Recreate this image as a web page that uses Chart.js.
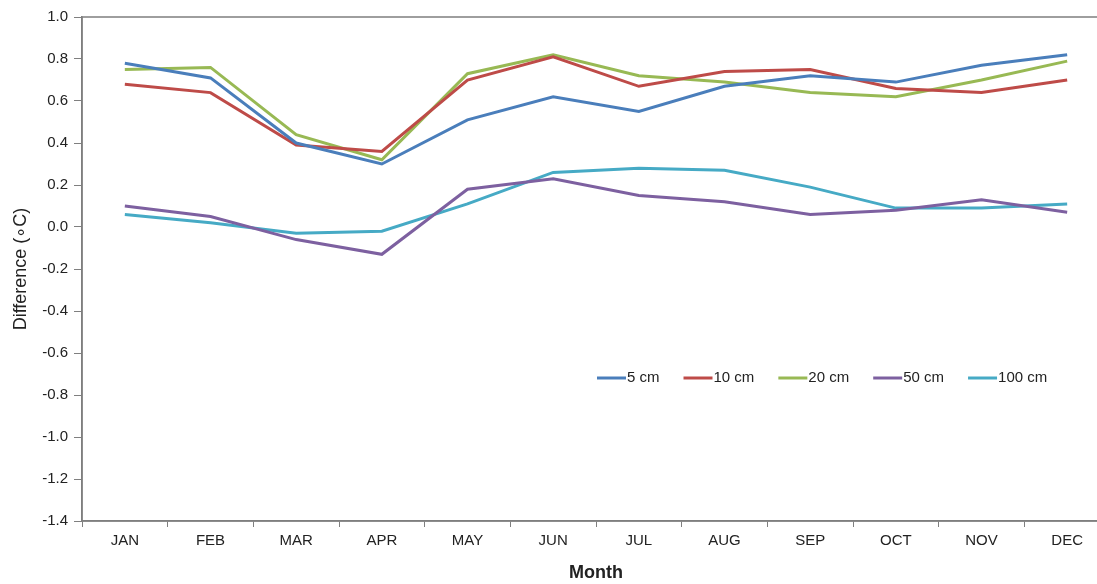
<!DOCTYPE html>
<html>
<head>
<meta charset="utf-8">
<script src="https://cdn.jsdelivr.net/npm/chart.js@4.4.0/dist/chart.umd.min.js"></script>
<style>
  html, body { margin: 0; padding: 0; background: #fff; overflow: hidden; }
  #wrap { width: 1112px; height: 584px; position: relative; }
</style>
</head>
<body>
<div id="wrap"><canvas id="myChart"></canvas></div>
<script>
// chart values
const months = ['JAN', 'FEB', 'MAR', 'APR', 'MAY', 'JUN', 'JUL', 'AUG', 'SEP', 'OCT', 'NOV', 'DEC'];
const seriesNames = ['5 cm', '10 cm', '20 cm', '50 cm', '100 cm'];
const depth5 = [0.78, 0.71, 0.40, 0.30, 0.51, 0.62, 0.55, 0.67, 0.72, 0.69, 0.77, 0.82];
const depth10 = [0.68, 0.64, 0.39, 0.36, 0.70, 0.81, 0.67, 0.74, 0.75, 0.66, 0.64, 0.70];
const depth20 = [0.75, 0.76, 0.44, 0.32, 0.73, 0.82, 0.72, 0.69, 0.64, 0.62, 0.70, 0.79];
const depth50 = [0.10, 0.05, -0.06, -0.13, 0.18, 0.23, 0.15, 0.12, 0.06, 0.08, 0.13, 0.07];
const depth100 = [0.06, 0.02, -0.03, -0.02, 0.11, 0.26, 0.28, 0.27, 0.19, 0.09, 0.09, 0.11];
const yTicks = [1.0, 0.8, 0.6, 0.4, 0.2, 0.0, -0.2, -0.4, -0.6, -0.8, -1.0, -1.2, -1.4];

const colors = ['#4a7ebb', '#be4b48', '#98b954', '#7d60a0', '#46aac5'];
const allSeries = [depth5, depth10, depth20, depth50, depth100];

// legend sits inside the plot, so draw it by hand
const insideLegend = {
    id: 'insideLegend',
    afterDraw(chart) {
        const ctx = chart.ctx;
        ctx.save();
        ctx.font = '15px "Liberation Sans", Arial, sans-serif';
        ctx.textBaseline = 'middle';
        let x = 597;
        const y = 378;
        chart.data.datasets.forEach(ds => {
            ctx.strokeStyle = ds.borderColor;
            ctx.lineWidth = 3;
            ctx.beginPath();
            ctx.moveTo(x, y);
            ctx.lineTo(x + 29, y);
            ctx.stroke();
            ctx.fillStyle = '#222';
            ctx.fillText(ds.label, x + 30, y);
            x += 30 + ctx.measureText(ds.label).width + 24;
        });
        ctx.restore();
    }
};

// gray box round the plot area
const frame = {
    id: 'frame',
    beforeDatasetsDraw(chart) {
        const a = chart.chartArea;
        const ctx = chart.ctx;
        ctx.save();
        ctx.strokeStyle = '#7f7f7f';
        ctx.lineWidth = 1.5;
        ctx.strokeRect(a.left, a.top, a.right - a.left, a.bottom - a.top);
        ctx.restore();
    }
};

const ctx = document.getElementById('myChart').getContext('2d');
new Chart(ctx, {
    type: 'line',
    data: {
        labels: months,
        datasets: allSeries.map((vals, i) => ({
            label: seriesNames[i],
            data: vals,
            borderColor: colors[i],
            backgroundColor: colors[i],
            borderWidth: 3,
            pointRadius: 0,
            tension: 0,
            fill: false
        }))
    },
    options: {
        responsive: true,
        maintainAspectRatio: false,
        animation: false,
        layout: { padding: { top: 17, right: 2, left: 0, bottom: 0 } },
        plugins: {
            legend: { display: false },
            tooltip: { enabled: false }
        },
        scales: {
            x: {
                offset: true,
                grid: {
                    offset: true,
                    drawOnChartArea: false,
                    tickLength: 6,
                    color: '#7f7f7f'
                },
                border: { color: '#7f7f7f', width: 1.5 },
                ticks: {
                    color: '#222',
                    padding: 5,
                    maxRotation: 0,
                    font: { family: '"Liberation Sans Narrow", "Liberation Sans", Arial', size: 15 }
                },
                title: {
                    display: true,
                    text: 'Month',
                    color: '#222',
                    padding: { top: 8, bottom: 0 },
                    font: { family: '"Liberation Sans", Arial', size: 18, weight: 'bold' }
                },
                afterFit(scale) { scale.height = 63; }
            },
            y: {
                min: -1.4,
                max: 1.0,
                afterBuildTicks(scale) {
                    scale.ticks = yTicks.map(v => ({ value: v }));
                },
                grid: {
                    drawOnChartArea: false,
                    tickLength: 8,
                    color: '#7f7f7f'
                },
                border: { color: '#7f7f7f', width: 1.5 },
                ticks: {
                    color: '#222',
                    padding: 6,
                    font: { family: '"Liberation Sans", Arial', size: 15 },
                    callback: v => Number(v).toFixed(1)
                },
                title: {
                    display: true,
                    text: 'Difference (∘C)',
                    color: '#222',
                    padding: { top: 10, bottom: 0 },
                    font: { family: '"Liberation Sans", Arial', size: 18 }
                },
                afterFit(scale) { scale.width = 82; }
            }
        }
    },
    plugins: [frame, insideLegend]
});
</script>
</body>
</html>
